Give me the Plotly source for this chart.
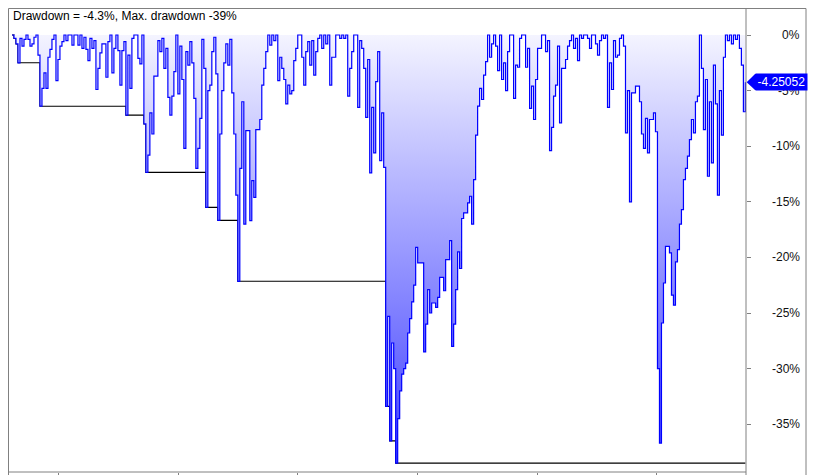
import numpy as np
import plotly.graph_objects as go

# Drawdown (%) per bar
drawdown = [
    0, -0.3, -0.8, -2.5, -0.3, -1.0, -0.4, 0, -0.4, -1.0,
    -0.8, -0.2, 0, -1.8, -6.4, -4.8, -3.4, -4.8, -2.0, -1.3,
    -0.4, 0, -4.1, -2.2, -1.0, -0.6, 0, -0.5, 0, 0,
    -0.9, 0, 0, -0.9, 0, -1.2, -0.2, -1.3, -2.3, -0.3,
    -1.2, -0.5, -4.9, -3.0, -1.6, -0.8, -0.8, -3.8, -0.6, 0,
    -3.4, -1.2, 0, -1.4, -4.5, -1.4, -0.6, -7.2, -1.8, -4.8,
    -0.3, 0, 0, -2.1, -2.6, 0, -8.0, -12.35, -10.8, -7.0,
    -8.9, -3.7, -3.7, -0.5, -1.5, -0.3, -3.0, -1.2, -5.6, -7.2,
    -5.5, -3.3, 0, -5.3, -1.0, -4.0, -10.2, -1.5, -2.7, -0.6,
    -2.5, -5.7, -12.0, -10.2, -7.5, -0.4, -3.0, -15.5, -5.0, -4.5,
    -1.5, -0.2, -3.5, -16.67, -8.9, -5.0, -2.5, -0.8, -2.7, -0.4,
    -5.2, -8.9, -14.4, -22.15, -12.0, -6.0, -17.0, -8.6, -8.6, -16.7,
    -13.1, -14.6, -8.5, -8.5, -7.6, -4.5, -3.0, -1.5, 0, -0.9,
    0, -0.5, 0, -4.1, -2.0, -3.0, -4.0, -6.2, -4.5, -5.3,
    -5.0, -2.3, -1.2, 0, 0, -2.0, -4.5, -1.5, -0.6, -2.7,
    -0.5, -3.6, -1.5, -0.3, 0, -1.2, 0, -0.8, 0, -4.5,
    -2.0, -2.0, 0, 0, -0.3, 0, -0.3, 0, -5.5, -3.0,
    -1.5, 0, 0, -6.5, -0.5, -1.2, -3.0, -7.4, -2.2, -12.4,
    -6.5, -10.6, -4.2, -1.5, -11.3, -7.0, -11.9, -33.4, -25.3, -36.5,
    -27.7, -30.0, -38.5, -34.5, -32.0, -30.5, -30.0, -29.5, -26.8, -25.5,
    -24.0, -22.5, -19.1, -20.5, -20.5, -20.5, -28.5, -26.0, -22.9, -25.0,
    -24.1, -24.1, -24.5, -23.6, -21.8, -21.8, -23.0, -20.2, -20.2, -18.5,
    -28.0, -26.0, -22.9, -19.5, -21.0, -16.5, -16.0, -16.0, -15.1, -14.5,
    -17.0, -13.0, -9.0, -6.4, -4.8, -5.8, -3.6, -2.4, 0, -2.0,
    -0.8, 0, -1.0, -3.2, 0, -4.0, -2.5, -5.0, -1.5, 0,
    0, -5.7, -2.7, -2.9, -0.3, 0, 0, -2.9, -1.2, -6.6,
    -4.6, -7.6, -4.0, -1.2, -1.2, 0, 0, -1.5, -0.5, -10.4,
    -8.3, -5.5, -4.5, -1.0, -7.9, -3.0, -3.0, -2.2, -1.0, -0.5,
    0, -1.2, -0.3, -2.3, 0, -0.3, 0, 0, -0.3, -1.2,
    0, 0, -0.8, -1.8, -0.5, 0, -0.3, 0, -6.5, -2.5,
    -4.9, -0.5, -2.0, -1.8, -0.3, 0, -1.0, -8.8, -5.0, -15.0,
    -5.2, -5.2, -4.6, -4.6, -6.0, -8.9, -10.2, -7.5, -10.6, -7.6,
    -7.6, -7.0, -8.7, -30.0, -36.7, -25.9, -22.3, -19.0, -19.0, -19.6,
    -23.4, -24.3, -20.4, -19.3, -17.0, -15.7, -13.0, -12.0, -10.9, -9.4,
    -7.6, -8.8, -6.0, -5.5, 0, -3.0, -8.5, -4.0, -12.7, -6.0,
    -11.5, -2.7, -6.2, -14.4, -5.0, -9.0, -2.0, 0, -0.5, 0,
    -0.8, 0, -0.4, 0, -1.2, -2.7, -6.9, -4.25052,
]
bars = list(range(len(drawdown)))

y_ticks = [0, -5, -10, -15, -20, -25, -30, -35]
y_tick_labels = ["0%", "-5%", "-10%", "-15%", "-20%", "-25%", "-30%", "-35%"]
x_tick_bars = [23.2, 83.1, 143.0, 202.9, 262.8, 322.7]
title_text = "Drawdown = -4.3%, Max. drawdown -39%"
last_value_text = "-4.25052"

max_drawdown = np.minimum.accumulate(np.array(drawdown, dtype=float))

FONT = "Liberation Sans, Arial, sans-serif"
GRAY = "#808080"

fig = go.Figure()
fig.add_trace(go.Scatter(
    x=bars, y=max_drawdown, mode="lines",
    line=dict(color="#000000", width=1.1, shape="hv"),
    hoverinfo="skip",
))
fig.add_trace(go.Scatter(
    x=bars, y=drawdown, mode="lines",
    line=dict(color="#0000ff", width=1.2, shape="hv"),
    fill="tozeroy",
    fillgradient=dict(type="vertical",
                      colorscale=[[0, "rgb(60,60,255)"], [1, "rgb(255,255,255)"]],
                      start=-39.3, stop=2.4),
    hoverinfo="skip",
))

# The page body has an 8px margin, so the figure starts at screen (8, 8).
def px_x(px):
    return (px - 8) / 738.0

def px_y(py):
    return (472 - py) / 464.0

shapes = [
    dict(type="line", xref="paper", yref="paper", x0=1, x1=px_x(806), y0=px_y(8.5), y1=px_y(8.5),
         line=dict(color=GRAY, width=1)),
    dict(type="line", xref="paper", yref="paper", x0=px_x(806), x1=px_x(806), y0=px_y(8.5), y1=-0.02,
         line=dict(color=GRAY, width=1)),
    dict(type="line", xref="paper", yref="paper", x0=px_x(8.5), x1=px_x(8.5), y0=0, y1=-0.02,
         line=dict(color=GRAY, width=1)),
    dict(type="line", xref="paper", yref="paper", x0=1, x1=1, y0=0, y1=-0.02,
         line=dict(color=GRAY, width=1)),
    dict(type="path", xref="paper", yref="y", layer="above",
         path=(f"M {px_x(746.7)},{drawdown[-1]} L {px_x(755)},{-3.51} "
               f"L {px_x(806)},{-3.51} L {px_x(806)},{-4.95} L {px_x(755)},{-4.95} Z"),
         fillcolor="#0000ff", line=dict(width=0)),
]

annotations = [
    dict(xref="paper", yref="paper", x=px_x(11.3), y=px_y(15.5), xanchor="left", yanchor="middle",
         text=title_text, showarrow=False, font=dict(family=FONT, size=12, color="#000000")),
]
for v, lab in zip(y_ticks, y_tick_labels):
    annotations.append(dict(xref="paper", yref="y", x=px_x(801.5), y=v, xanchor="right",
                            yanchor="middle", text=lab, showarrow=False,
                            font=dict(family=FONT, size=12, color="#111111")))
annotations.append(dict(xref="paper", yref="y", x=px_x(755), y=drawdown[-1], xanchor="left",
                        yanchor="middle", text=last_value_text, showarrow=False,
                        bgcolor="#0000ff", width=48, height=13, borderpad=1.5, align="left",
                        font=dict(family=FONT, size=12, color="#ffffff")))

fig.update_layout(
    width=823, height=467,
    margin=dict(l=0, r=85, t=0, b=3, autoexpand=False),
    paper_bgcolor="white", plot_bgcolor="white",
    showlegend=False,
    xaxis=dict(range=[-2, 367.3], tickvals=x_tick_bars, ticktext=[""] * len(x_tick_bars),
               ticks="outside", ticklen=4, tickcolor=GRAY, showgrid=False, zeroline=False,
               showline=False, automargin=False),
    yaxis=dict(range=[-39.3, 2.43], side="right", tickvals=y_ticks, showticklabels=False,
               ticks="outside", ticklen=4, tickcolor=GRAY, showgrid=False, zeroline=False,
               showline=False, automargin=False),
    shapes=shapes + [
        # plot frame (left, top, right axis line, bottom axis line)
        dict(type="line", xref="paper", yref="paper", x0=px_x(8.5), x1=px_x(8.5), y0=0, y1=px_y(8.5),
             line=dict(color=GRAY, width=1)),
        dict(type="line", xref="paper", yref="paper", x0=px_x(8.5), x1=1, y0=px_y(8.5), y1=px_y(8.5),
             line=dict(color=GRAY, width=1)),
        dict(type="line", xref="paper", yref="paper", x0=1, x1=1, y0=0, y1=px_y(8.5),
             line=dict(color=GRAY, width=1)),
        dict(type="line", xref="paper", yref="paper", x0=px_x(8.5), x1=1, y0=0, y1=0,
             line=dict(color=GRAY, width=1)),
    ],
    annotations=annotations,
)

fig.write_html("out.html")
